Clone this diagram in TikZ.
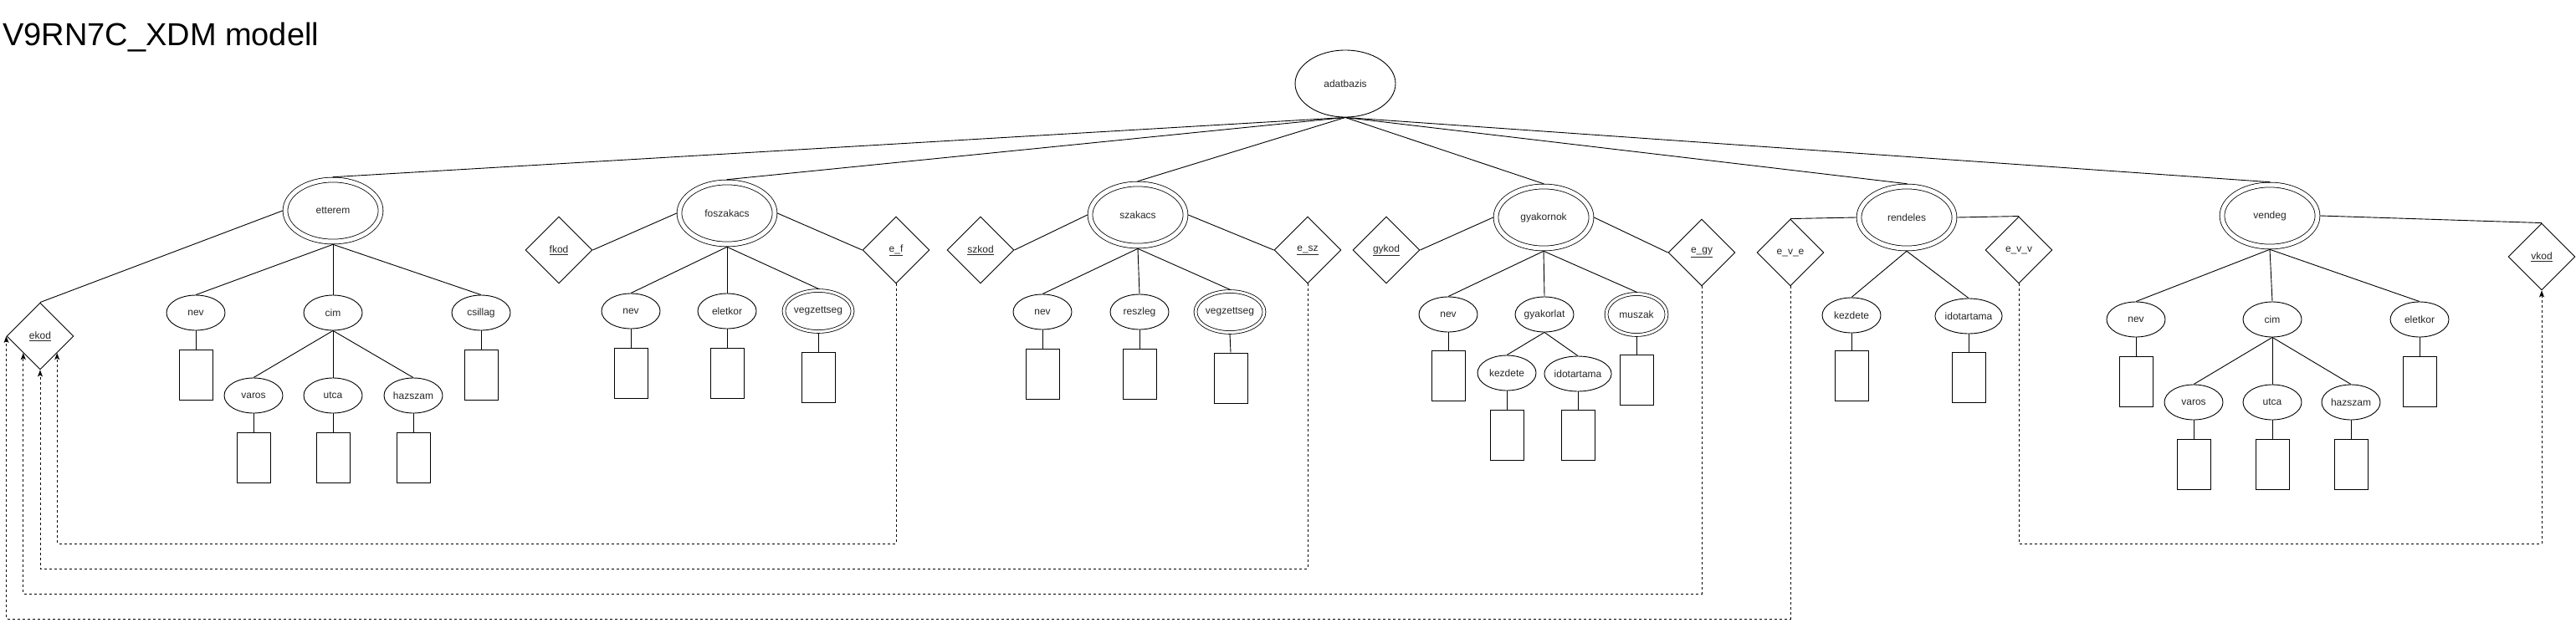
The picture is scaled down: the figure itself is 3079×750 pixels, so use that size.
\documentclass[tikz,border=0pt]{standalone}
\usepackage{fontspec}
\setmainfont{Liberation Sans}
\usetikzlibrary{shapes.geometric,arrows.meta}
\begin{document}
\begin{tikzpicture}[x=1pt,y=-1pt,
  every node/.style={font=\fontsize{12}{14}\selectfont, text=black!85},
  base/.style={draw=black, line width=0.9pt, inner sep=0pt},
  attr/.style={base, ellipse, minimum width=70pt, minimum height=42pt},
  mattr/.style={ellipse, draw=black, line width=0.8pt, double, double distance=3pt, inner sep=0pt, minimum width=72pt, minimum height=49pt, outer sep=2.3pt},
  entity/.style={ellipse, draw=black, line width=0.8pt, double, double distance=5pt, inner sep=0pt, minimum width=114pt, minimum height=74pt, outer sep=3.3pt},
  root/.style={base, ellipse, minimum width=120pt, minimum height=80pt},
  rel/.style={base, diamond, aspect=1, minimum width=80pt, minimum height=80pt},
  val/.style={draw=black, line width=0.9pt, minimum width=40pt, minimum height=60pt, inner sep=0pt},
  link/.style={draw=black, line width=0.9pt},
  dasharr/.style={draw=black, line width=0.9pt, dash pattern=on 3pt off 3pt, -{Stealth[length=8pt,width=6pt,inset=2pt]}}
]
\useasboundingbox (0,0) rectangle (3079,750);

\node[anchor=base west, font=\fontsize{38}{46}\selectfont, text=black, inner sep=0pt] (title) at (3,54) {V9RN7C\_XDM modell};

% root
\node[root] (adat) at (1608,100) {adatbazis};

% etterem
\node[entity] (ett) at (398,252) {etterem};
\node[rel] (ekod) at (48,402) {\underline{ekod}};
\node[attr] (ettnev) at (234,374) {nev};
\node[attr] (ettcim) at (398,374) {cim};
\node[attr] (ettcs) at (575,374) {csillag};
\node[attr] (ettvar) at (303,473) {varos};
\node[attr] (ettut) at (398,473) {utca};
\node[attr] (etthaz) at (494,473) {hazszam};
\node[val] (bettnev) at (234,448) {};
\node[val] (bettcs) at (575,448) {};
\node[val] (bettvar) at (303,547) {};
\node[val] (bettut) at (398,547) {};
\node[val] (betthaz) at (494,547) {};

% foszakacs
\node[entity] (fosz) at (869,255) {foszakacs};
\node[rel] (fkod) at (668,299) {\underline{fkod}};
\node[rel] (ef) at (1071,299) {\underline{e\_f}};
\node[attr] (fnev) at (754,372) {nev};
\node[attr] (fel) at (869,372) {eletkor};
\node[mattr] (fveg) at (978,372) {vegzettseg};
\node[val] (bfnev) at (754,446) {};
\node[val] (bfel) at (869,446) {};
\node[val] (bfveg) at (978,451) {};

% szakacs
\node[entity] (sz) at (1360,257) {szakacs};
\node[rel] (szkod) at (1172,299) {\underline{szkod}};
\node[rel] (esz) at (1563,299) {\underline{e\_sz}};
\node[attr] (sznev) at (1246,373) {nev};
\node[attr] (szres) at (1362,373) {reszleg};
\node[mattr] (szveg) at (1470,373) {vegzettseg};
\node[val] (bsznev) at (1246,447) {};
\node[val] (bszres) at (1362,447) {};
\node[val] (bszveg) at (1471,452) {};

% gyakornok
\node[entity] (gy) at (1845,260) {gyakornok};
\node[rel] (gykod) at (1657,299) {\underline{gykod}};
\node[rel] (egy) at (2034,302) {\underline{e\_gy}};
\node[attr] (gynev) at (1731,376) {nev};
\node[attr] (gygy) at (1846,376) {gyakorlat};
\node[mattr] (gymu) at (1956,376) {muszak};
\node[attr] (gykez) at (1801,446) {kezdete};
\node[attr] (gyido) at (1886,447) {idotartama};
\node[val] (bgynev) at (1731,449) {};
\node[val] (bgymu) at (1956,454) {};
\node[val] (bgykez) at (1801,520) {};
\node[val] (bgyido) at (1886,520) {};

% rendeles
\node[entity] (ren) at (2279,260) {rendeles};
\node[rel] (eve) at (2140,302) {e\_v\_e};
\node[rel] (evv) at (2413,299) {e\_v\_v};
\node[attr] (renkez) at (2213,377) {kezdete};
\node[attr] (renido) at (2353,378) {idotartama};
\node[val] (brenkez) at (2213,449) {};
\node[val] (brenido) at (2353,451) {};

% vendeg
\node[entity] (ven) at (2713,258) {vendeg};
\node[rel] (vkod) at (3038,307) {\underline{vkod}};
\node[attr] (vnev) at (2553,382) {nev};
\node[attr] (vcim) at (2716,382) {cim};
\node[attr] (vel) at (2892,382) {eletkor};
\node[attr] (vvar) at (2622,481) {varos};
\node[attr] (vut) at (2716,481) {utca};
\node[attr] (vhaz) at (2810,481) {hazszam};
\node[val] (bvnev) at (2553,456) {};
\node[val] (bvel) at (2892,456) {};
\node[val] (bvvar) at (2622,555) {};
\node[val] (bvut) at (2716,555) {};
\node[val] (bvhaz) at (2810,555) {};

% root links
\foreach \e in {ett,fosz,sz,gy,ren,ven} \draw[link] (adat.south) -- (\e.north);

% etterem links
\draw[link] (ett.west) -- (ekod.north);
\foreach \a in {ettnev,ettcim,ettcs} \draw[link] (ett.south) -- (\a.north);
\foreach \a in {ettvar,ettut,etthaz} \draw[link] (ettcim.south) -- (\a.north);
\draw[link] (ettnev.south) -- (bettnev.north);
\draw[link] (ettcs.south) -- (bettcs.north);
\draw[link] (ettvar.south) -- (bettvar.north);
\draw[link] (ettut.south) -- (bettut.north);
\draw[link] (etthaz.south) -- (betthaz.north);

% foszakacs links
\draw[link] (fkod.east) -- (fosz.west);
\draw[link] (fosz.east) -- (ef.west);
\foreach \a in {fnev,fel,fveg} \draw[link] (fosz.south) -- (\a.north);
\draw[link] (fnev.south) -- (bfnev.north);
\draw[link] (fel.south) -- (bfel.north);
\draw[link] (fveg.south) -- (bfveg.north);

% szakacs links
\draw[link] (szkod.east) -- (sz.west);
\draw[link] (sz.east) -- (esz.west);
\foreach \a in {sznev,szres,szveg} \draw[link] (sz.south) -- (\a.north);
\draw[link] (sznev.south) -- (bsznev.north);
\draw[link] (szres.south) -- (bszres.north);
\draw[link] (szveg.south) -- (bszveg.north);

% gyakornok links
\draw[link] (gykod.east) -- (gy.west);
\draw[link] (gy.east) -- (egy.west);
\foreach \a in {gynev,gygy,gymu} \draw[link] (gy.south) -- (\a.north);
\foreach \a in {gykez,gyido} \draw[link] (gygy.south) -- (\a.north);
\draw[link] (gynev.south) -- (bgynev.north);
\draw[link] (gymu.south) -- (bgymu.north);
\draw[link] (gykez.south) -- (bgykez.north);
\draw[link] (gyido.south) -- (bgyido.north);

% rendeles links
\draw[link] (eve.north) -- (ren.west);
\draw[link] (ren.east) -- (evv.north);
\foreach \a in {renkez,renido} \draw[link] (ren.south) -- (\a.north);
\draw[link] (renkez.south) -- (brenkez.north);
\draw[link] (renido.south) -- (brenido.north);

% vendeg links
\draw[link] (ven.east) -- (vkod.north);
\foreach \a in {vnev,vcim,vel} \draw[link] (ven.south) -- (\a.north);
\foreach \a in {vvar,vut,vhaz} \draw[link] (vcim.south) -- (\a.north);
\draw[link] (vnev.south) -- (bvnev.north);
\draw[link] (vel.south) -- (bvel.north);
\draw[link] (vvar.south) -- (bvvar.north);
\draw[link] (vut.south) -- (bvut.north);
\draw[link] (vhaz.south) -- (bvhaz.north);

% dashed references
\draw[dasharr] (ef.south) |- (ekod.south east |- 0,650) -- (ekod.south east);
\draw[dasharr] (esz.south) |- (ekod.south |- 0,680) -- (ekod.south);
\draw[dasharr] (egy.south) |- (ekod.south west |- 0,710) -- (ekod.south west);
\draw[dasharr] (eve.south) |- (ekod.west |- 0,740) -- (ekod.west);
\draw[dasharr] (evv.south) |- (vkod.south |- 0,650) -- (vkod.south);
\end{tikzpicture}
\end{document}
